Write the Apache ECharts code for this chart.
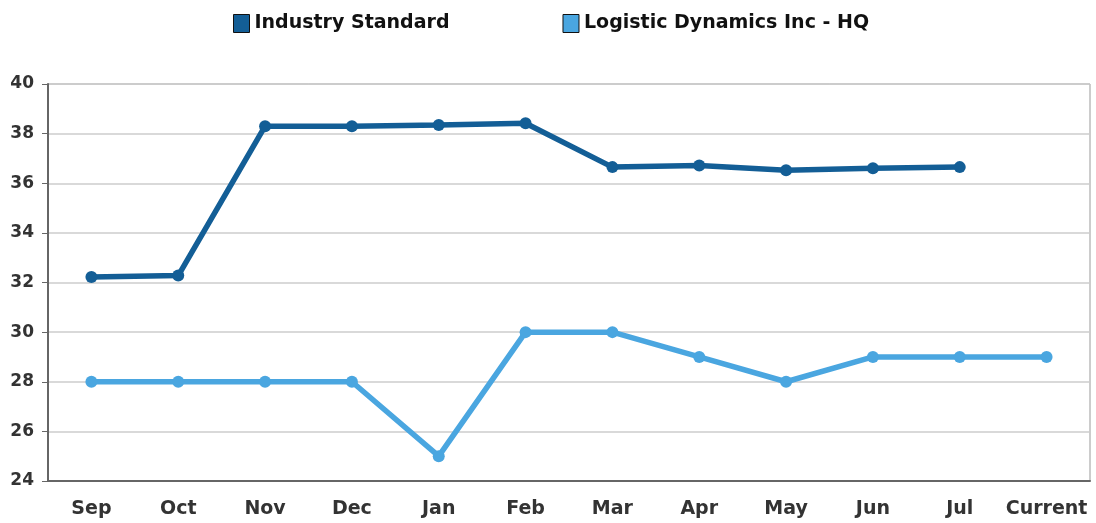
<!DOCTYPE html>
<html><head><meta charset="utf-8">
<script src="https://cdn.jsdelivr.net/npm/echarts@6/dist/echarts.min.js"></script>
<style>html,body{margin:0;padding:0;background:#fff}#c{width:1096px;height:523px}</style>
</head><body><div id="c"></div>
<script>
var categories = ['Sep','Oct','Nov','Dec','Jan','Feb','Mar','Apr','May','Jun','Jul','Current'];
var industryStandard = [32.22,32.28,38.3,38.3,38.35,38.42,36.65,36.72,36.52,36.6,36.65,null];
var logisticHQ = [28,28,28,28,25,30,30,29,28,29,29,29];
var yTicks = {min:24, max:40, interval:2};

var chart = echarts.init(document.getElementById('c'));
var font = '"DejaVu Sans", sans-serif';
chart.setOption({
  animation:false,
  legend:{
    top:9, left:228, itemGap:113, itemWidth:16, itemHeight:18, itemTextGap:6,
    icon:'rect',
    textStyle:{fontFamily:font, fontWeight:'bold', fontSize:19, color:'#111'},
    data:[
      {name:'Industry Standard', itemStyle:{color:'#135e96', borderColor:'#111', borderWidth:1}},
      {name:'Logistic Dynamics Inc - HQ', itemStyle:{color:'#4aa6e0', borderColor:'#111', borderWidth:1}}
    ]
  },
  grid:{left:48, right:6, top:84, bottom:42, show:true, borderColor:'#999', borderWidth:1},
  xAxis:{
    type:'category', data:categories, boundaryGap:true,
    axisLine:{lineStyle:{color:'#666', width:2}},
    axisTick:{alignWithLabel:true, length:6, lineStyle:{color:'#666'}},
    axisLabel:{interval:0, fontFamily:font, fontWeight:'bold', fontSize:19, color:'#333', margin:19}
  },
  yAxis:{
    type:'value', min:yTicks.min, max:yTicks.max, interval:yTicks.interval,
    axisLine:{show:true, lineStyle:{color:'#666', width:2}},
    axisTick:{show:true, length:6, lineStyle:{color:'#666'}},
    axisLabel:{fontFamily:font, fontWeight:'bold', fontSize:17, color:'#333', margin:14},
    splitLine:{lineStyle:{color:'#ccc', width:1.5}}
  },
  series:[
    {name:'Industry Standard', type:'line', data:industryStandard, symbol:'circle', symbolSize:12,
     lineStyle:{width:5.5, color:'#135e96'}, itemStyle:{color:'#135e96'}},
    {name:'Logistic Dynamics Inc - HQ', type:'line', data:logisticHQ, symbol:'circle', symbolSize:12,
     lineStyle:{width:5.5, color:'#4aa6e0'}, itemStyle:{color:'#4aa6e0'}}
  ]
});
</script></body></html>
